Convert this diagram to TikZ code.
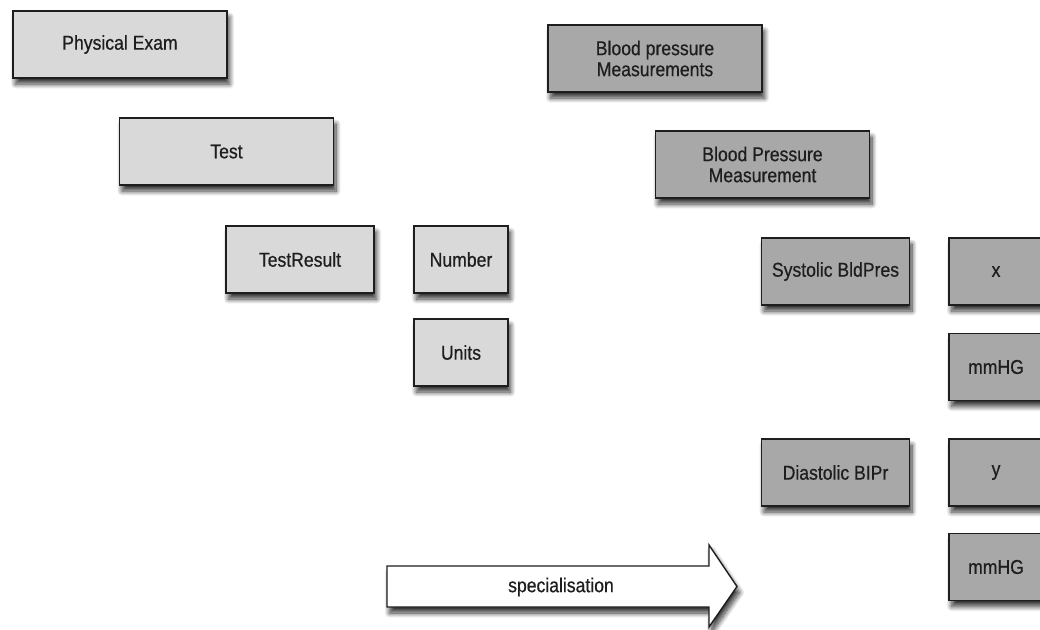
\documentclass[tikz,border=0pt]{standalone}
\usepackage{fontspec}
\setmainfont{Liberation Sans}[FakeStretch=0.88, FakeBold=0.6]
\usetikzlibrary{shadows.blur}
\definecolor{boxlight}{HTML}{D9D9D9}
\definecolor{boxdark}{HTML}{A8A8A8}
\definecolor{ink}{HTML}{1E1E1E}
\tikzset{
  softshadow/.style={blur shadow={shadow xshift=2.5pt, shadow yshift=-6pt,
      shadow blur steps=10, shadow blur radius=5pt, shadow opacity=80}},
  card/.style={rectangle, draw=ink, line width=1.4pt, inner sep=0pt, align=center,
    text=ink, font=\fontsize{20pt}{21pt}\selectfont, softshadow},
  light/.style={card, fill=boxlight},
  dark/.style={card, fill=boxdark},
  wide/.style={minimum width=214pt, minimum height=67pt},
  mid/.style={minimum width=148pt, minimum height=67pt},
  narrow/.style={minimum width=94pt, minimum height=67pt},
}
\begin{document}
\begin{tikzpicture}[x=1pt, y=-1pt]
  \useasboundingbox (0,0) rectangle (1040,629);

  % generic concepts (light)
  \node[light, wide]   (pe)    at (120,44.5)  {Physical Exam};
  \node[light, wide]   (test)  at (226.5,151.5) {Test};
  \node[light, mid]    (tr)    at (300,259.5) {TestResult};
  \node[light, narrow] (num)   at (461,259.5) {Number};
  \node[light, narrow] (units) at (461,352.5) {Units};

  % specialised concepts (dark)
  \node[dark, wide]   (bpms) at (655,58.5)   {Blood pressure\\Measurements};
  \node[dark, wide]   (bpm)  at (762.5,164.5) {Blood Pressure\\Measurement};
  \node[dark, mid]    (sys)  at (835.5,271.5) {Systolic BldPres};
  \node[dark, narrow] (xval) at (996,271.5)  {x};
  \node[dark, narrow] (mm1)  at (996,367)    {mmHG};
  \node[dark, mid]    (dia)  at (835.5,472.5) {Diastolic BIPr};
  \node[dark, narrow] (yval) at (996,472.5)  {y};
  \node[dark, narrow] (mm2)  at (996,567)    {mmHG};

  % block arrow
  \path[draw=ink, line width=1.4pt, fill=white, line join=miter, softshadow]
    (387,566) -- (709,566) -- (709,545) -- (737,586.5) -- (709,627)
    -- (709,607) -- (387,607) -- cycle;
  \node[text=ink, font=\fontsize{20pt}{21pt}\selectfont] (spec) at (561,587) {specialisation};
\end{tikzpicture}
\end{document}
